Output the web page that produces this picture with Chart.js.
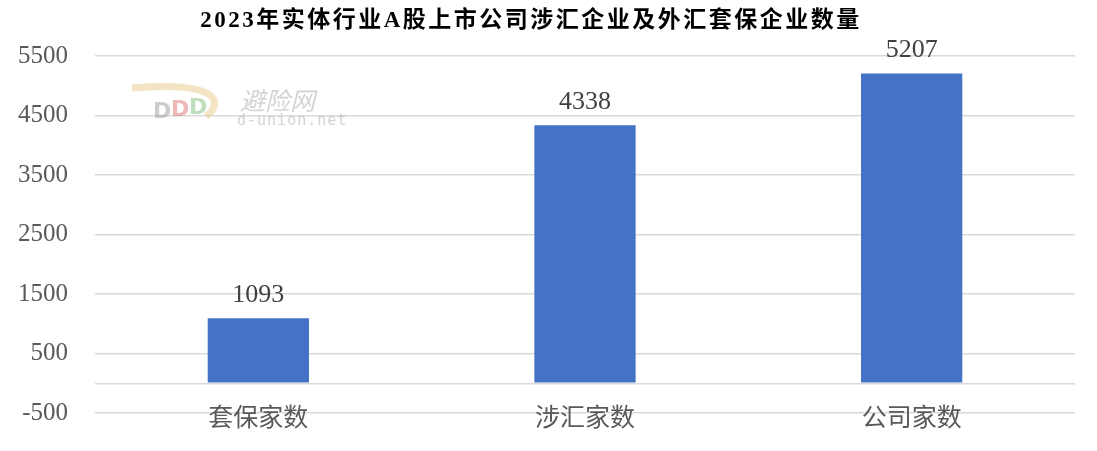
<!DOCTYPE html>
<html lang="zh">
<head>
<meta charset="UTF-8">
<title>2023年实体行业A股上市公司涉汇企业及外汇套保企业数量</title>
<script src="https://cdn.jsdelivr.net/npm/chart.js"></script>
<style>
    body { margin: 0; padding: 0; background: #ffffff; }
    #wrap { width: 1097px; height: 451px; position: relative; }
</style>
</head>
<body>
<div id="wrap"><canvas id="barChart"></canvas></div>
<script>
    // 数据
    const categories = ['套保家数', '涉汇家数', '公司家数'];
    const counts = [1093, 4338, 5207];
    const yTicks = [-500, 0, 500, 1500, 2500, 3500, 4500, 5500];
    const chartTitle = '2023年实体行业A股上市公司涉汇企业及外汇套保企业数量';

    const serif = '"Liberation Serif", "Times New Roman", "Noto Sans CJK SC", serif';

    // 标题、数据标签和水印
    const extras = {
        id: 'extras',
        afterDraw(chart) {
            const ctx = chart.ctx;
            ctx.save();

            // 标题
            ctx.fillStyle = '#000000';
            ctx.font = 'bold 23px ' + serif;
            ctx.textAlign = 'center';
            ctx.textBaseline = 'middle';
            ctx.letterSpacing = '2.5px';
            ctx.fillText(chartTitle, 531, 21);
            ctx.letterSpacing = '0px';

            // 数据标签
            const meta = chart.getDatasetMeta(0);
            ctx.fillStyle = '#404040';
            ctx.font = '26px ' + serif;
            ctx.textBaseline = 'bottom';
            meta.data.forEach((bar, i) => {
                ctx.fillText(String(counts[i]), bar.x, bar.y - 10);
            });

            // 水印
            ctx.globalAlpha = 0.5;
            ctx.strokeStyle = '#e8c98a';
            ctx.lineWidth = 7;
            ctx.beginPath();
            ctx.moveTo(132, 88);
            ctx.quadraticCurveTo(205, 82, 214, 100);
            ctx.quadraticCurveTo(216, 110, 206, 116);
            ctx.stroke();
            ctx.font = 'bold 22px "DejaVu Sans", sans-serif';
            ctx.textAlign = 'left';
            ctx.textBaseline = 'middle';
            ctx.fillStyle = '#9a9a9a';
            ctx.fillText('D', 153, 112);
            ctx.fillStyle = '#e07070';
            ctx.fillText('D', 171, 110);
            ctx.fillStyle = '#80c080';
            ctx.fillText('D', 189, 108);
            ctx.fillStyle = '#a8a8a8';
            ctx.font = 'italic 25px "Noto Sans CJK SC", sans-serif';
            ctx.fillText('避险网', 240, 100);
            ctx.font = '15px "DejaVu Sans Mono", monospace';
            ctx.letterSpacing = '1px';
            ctx.fillText('d-union.net', 237, 121);
            ctx.restore();
        }
    };

    new Chart(document.getElementById('barChart').getContext('2d'), {
        type: 'bar',
        data: {
            labels: categories,
            datasets: [{
                data: counts,
                backgroundColor: '#4472C4',
                categoryPercentage: 1,
                barPercentage: 0.31
            }]
        },
        options: {
            responsive: true,
            maintainAspectRatio: false,
            animation: false,
            layout: { padding: { top: 56, left: 15, right: 22, bottom: 38 } },
            plugins: {
                legend: { display: false },
                tooltip: { enabled: false },
                title: { display: false }
            },
            scales: {
                x: {
                    grid: { display: false, drawTicks: false },
                    border: { display: false },
                    afterFit(scale) { scale.height = 0; },
                    ticks: {
                        mirror: true,
                        padding: -18,
                        color: '#595959',
                        font: { size: 25, family: '"Noto Sans CJK SC", serif' }
                    }
                },
                y: {
                    min: -500,
                    max: 5500,
                    afterBuildTicks(scale) {
                        scale.ticks = yTicks.map(v => ({ value: v }));
                    },
                    afterFit(scale) {
                        scale.width = 80;
                        scale.paddingTop = 0;
                        scale.paddingBottom = 0;
                    },
                    grid: { color: '#d9d9d9', lineWidth: 1.5, drawTicks: false },
                    border: { display: false },
                    ticks: {
                        color: '#595959',
                        padding: 27,
                        font: { size: 25, family: serif },
                        callback: v => (v === 0 ? '' : v)
                    }
                }
            }
        },
        plugins: [extras]
    });
</script>
</body>
</html>
